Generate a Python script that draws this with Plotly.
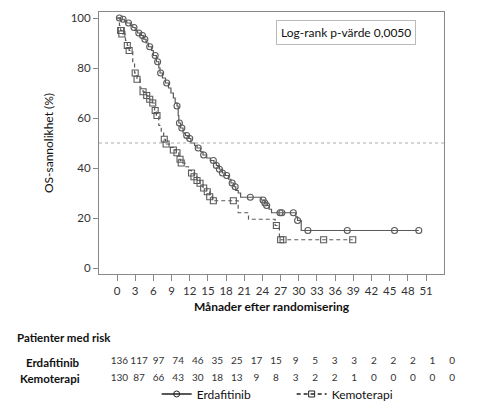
import numpy as np
import plotly.graph_objects as go

# Kaplan-Meier steps (months, OS %)
erda_t = [0, 0.6, 1.2, 1.6, 2.2, 2.6, 3.0, 3.4, 3.9, 4.4, 4.8, 5.2, 5.7, 6.0, 6.5, 6.9, 7.1, 7.5,
          8.0, 8.5, 8.9, 9.3, 9.6, 9.9, 10.1, 10.2, 10.5, 10.9, 11.3, 11.8, 12.2, 12.8, 13.2, 13.8,
          14.2, 14.8, 15.4, 16.0, 16.4, 16.9, 17.4, 17.9, 18.4, 18.8, 19.3, 19.6, 20.0, 20.4, 23.8,
          24.3, 24.6, 25.1, 25.5, 29.5, 29.8, 30.4, 49.8]
erda_s = [100, 99.5, 98.8, 98, 97, 96.2, 95, 94, 93, 91.5, 90, 88.5, 87, 85, 82.5, 80, 78, 76,
          74, 72, 70, 68, 66, 64.8, 61, 58, 56, 54, 53, 51.8, 50, 49, 48, 46.5,
          45.2, 44, 43, 42, 41, 39.5, 38, 37, 35.5, 34, 32.5, 31, 30, 28.3, 27.2,
          26, 25, 23.5, 22.1, 20.5, 19, 15, 15]
erda_cens = [0.4, 1.0, 1.9, 2.8, 3.6, 4.2, 4.6, 5.4, 6.3, 6.7, 7.2, 8.2, 9.9, 10.3, 10.7, 11.5,
             12.0, 13.4, 14.3, 15.9, 16.4, 16.9, 17.4, 18.1, 19.0, 19.5, 22.0, 24.1, 24.4, 24.7,
             26.9, 27.2, 29.1, 29.8, 31.5, 38.0, 45.8, 49.8]

kemo_t = [0, 0.4, 0.6, 0.8, 1.4, 1.7, 2.0, 2.6, 2.9, 3.3, 3.8, 4.3, 4.9, 5.3, 5.8, 6.2, 6.5, 6.9,
          7.3, 7.7, 8.0, 8.6, 9.3, 9.8, 10.2, 10.5, 11.2, 11.8, 12.3, 12.7, 13.2, 13.7, 14.2, 14.8,
          15.3, 15.8, 20.0, 21.7, 26.1, 26.8, 38.9]
kemo_s = [100, 97, 95, 93.6, 91, 89, 87, 82, 78, 75.5, 72, 70.5, 69, 67.5, 66, 63, 61, 57,
          54, 51.5, 49.6, 48.2, 47.2, 46.1, 43.5, 42, 40.5, 39, 38, 36.5, 35, 33.9, 32, 30.5,
          28.5, 26.9, 22.1, 19.5, 17, 11.3, 11.3]
kemo_cens = [0.6, 0.7, 0.8, 1.7, 2.0, 3.0, 3.3, 4.3, 4.9, 5.4, 5.9, 6.3, 6.6, 7.8, 8.1, 9.3, 9.9,
             10.4, 10.6, 12.3, 12.7, 13.2, 13.7, 14.3, 14.9, 15.3, 15.9, 19.2, 26.3, 27.0, 27.4,
             34.1, 38.9]

month_ticks = list(range(0, 52, 3))
risk_erda = [136, 117, 97, 74, 46, 35, 25, 17, 15, 9, 5, 3, 3, 2, 2, 2, 1, 0]
risk_kemo = [130, 87, 66, 43, 30, 18, 13, 9, 8, 3, 2, 2, 1, 0, 0, 0, 0, 0]
p_text = "Log-rank p-värde 0,0050"
median_level = 50

FONT = "Lato"
GREY = "#5a5a5a"


def surv_at(times, surv, pts):
    # value of the step curve at the censoring times
    idx = np.searchsorted(np.array(times), np.array(pts), side="right") - 1
    return list(np.array(surv)[idx])


fig = go.Figure()

groups = [
    ("Erdafitinib", erda_t, erda_s, erda_cens, "solid", "circle-open"),
    ("Kemoterapi", kemo_t, kemo_s, kemo_cens, "4px,3px", "square-open"),
]
for name, t, s, cens, dash, sym in groups:
    fig.add_trace(go.Scatter(x=t, y=s, mode="lines", line_shape="hv",
                             line=dict(color=GREY, width=1.2, dash=dash),
                             showlegend=False, hoverinfo="skip"))
    fig.add_trace(go.Scatter(x=cens, y=surv_at(t, s, cens), mode="markers",
                             marker=dict(symbol=sym, size=6, color=GREY, line=dict(width=1.1)),
                             showlegend=False, name=name))
    # legend entry only
    fig.add_trace(go.Scatter(x=[None], y=[None], mode="lines+markers", name=name,
                             line=dict(color="#222222", width=1.3, dash=dash),
                             marker=dict(symbol=sym, size=6, color="#222222")))

# numbers at risk
for row, vals in [(2, risk_erda), (1, risk_kemo)]:
    fig.add_trace(go.Scatter(x=month_ticks, y=[row] * len(vals), text=[str(v) for v in vals],
                             mode="text", textfont=dict(family=FONT, size=10, color="#333333"),
                             xaxis="x2", yaxis="y2", showlegend=False, cliponaxis=False,
                             hoverinfo="skip"))

fig.add_hline(y=median_level, line=dict(color="#aaaaaa", width=1, dash="dot"))

fig.add_annotation(text=p_text, xref="paper", yref="paper", x=0.664, y=0.947,
                   xanchor="center", yanchor="middle",
                   showarrow=False, font=dict(family=FONT, size=12, color="#111111"),
                   bordercolor="#bbbbbb", borderwidth=1, borderpad=4, bgcolor="white")

fig.add_annotation(text="<b>Patienter med risk</b>", xref="paper", yref="paper",
                   x=-0.226, y=0.173, xanchor="left", yanchor="middle", showarrow=False,
                   font=dict(family=FONT, size=11.5, color="#111111"))
for label, row in [("Erdafitinib", 2), ("Kemoterapi", 1)]:
    fig.add_annotation(text="<b>" + label + "</b>", xref="paper", yref="y2",
                       x=-0.046, y=row, xanchor="right", yanchor="middle", showarrow=False,
                       font=dict(family=FONT, size=11.5, color="#111111"))

# page body adds an 8px offset, so the figure is drawn 8px smaller
fig.update_layout(
    width=475, height=398,
    margin=dict(l=91, r=12, t=4, b=0, autoexpand=False),
    paper_bgcolor="white", plot_bgcolor="white",
    font=dict(family=FONT, size=11, color="#333333"),
    xaxis=dict(domain=[0, 0.9274], range=[-2.97, 53.96], tickvals=month_ticks,
               showgrid=False, zeroline=False, showline=True, mirror=True,
               linecolor="#888888", ticks="outside", ticklen=6, tickcolor="#888888",
               tickfont=dict(size=11.5),
               title=dict(text="<b>Månader efter randomisering</b>", standoff=6,
                          font=dict(size=12, color="#111111"))),
    yaxis=dict(domain=[0.335, 1], range=[-2.4, 102.4], tickvals=[0, 20, 40, 60, 80, 100],
               showgrid=False, zeroline=False, showline=True, mirror=True,
               linecolor="#888888", ticks="outside", ticklen=5, tickcolor="#888888",
               tickfont=dict(size=11.5),
               title=dict(text="OS-sannolikhet (%)", standoff=14,
                          font=dict(size=12, color="#111111"))),
    xaxis2=dict(domain=[0, 1], range=[-3.14, 53.9], anchor="y2", visible=False),
    yaxis2=dict(domain=[0, 0.15], range=[-0.667, 2.915], anchor="x2", visible=False),
    legend=dict(orientation="h", x=0.155, y=0.0305, xanchor="left", yanchor="middle",
                font=dict(family=FONT, size=12, color="#111111"),
                entrywidth=90, entrywidthmode="pixels", bgcolor="rgba(0,0,0,0)"),
)

fig.write_html("out.html")
